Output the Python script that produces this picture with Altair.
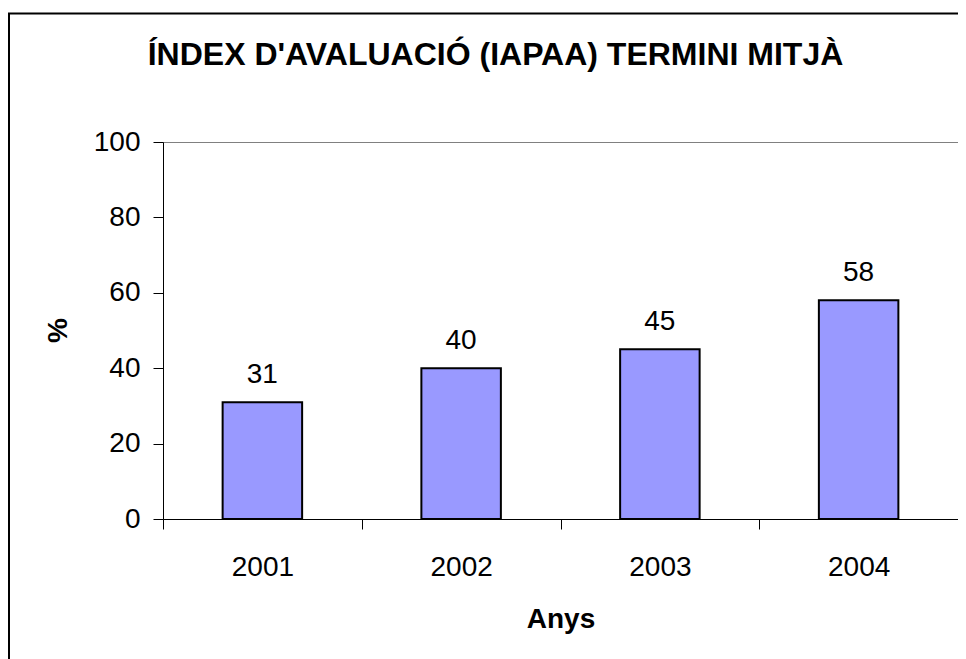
import altair as alt
import pandas as pd

# ---- data ----
years = ["2001", "2002", "2003", "2004"]
values = [31, 40, 45, 58]
y_ticks = [0, 20, 40, 60, 80, 100]
title_text = "ÍNDEX D'AVALUACIÓ (IAPAA) TERMINI MITJÀ"
x_title = "Anys"
y_title = "%"

df = pd.DataFrame({"Any": years, "Valor": values})

FONT = "Liberation Sans"

x_enc = alt.X(
    "Any:N",
    sort=years,
    scale=alt.Scale(paddingInner=0, paddingOuter=0),
    axis=alt.Axis(
        title=x_title,
        labelAngle=0,
        tickBand="extent",
        tickSize=10,
        labelPadding=24,
        titleY=108,
        titleBaseline="alphabetic",
    ),
)
y_enc = alt.Y(
    "Valor:Q",
    scale=alt.Scale(domain=[0, 100], nice=False),
    axis=alt.Axis(
        title=y_title,
        values=y_ticks,
        grid=False,
        tickSize=10,
        labelPadding=13,
        titleAngle=-90,
        titleX=-105,
        titleY=188,
        titleAlign="center",
        titleBaseline="middle",
    ),
)

frame = alt.Chart(alt.Data(values=[{"f": 1}])).mark_rect(
    fill="white", fillOpacity=0, stroke="#000000", strokeWidth=2
).encode(
    x=alt.value(-154), x2=alt.value(1000),
    y=alt.value(-128.5), y2=alt.value(700),
)

bars = alt.Chart(df).mark_bar(
    color="#9999ff", stroke="#000000", strokeWidth=2,
    width=alt.RelativeBandSize(0.4),
).encode(x=x_enc, y=y_enc)

labels = alt.Chart(df).mark_text(
    baseline="alphabetic", dy=-19, fontSize=28, font=FONT, color="#000000"
).encode(x=x_enc, y=y_enc, text="Valor:Q")

chart = alt.layer(frame, bars, labels).properties(
    width=795,
    height=377,
    background="white",
    padding={"left": 155, "top": 134, "right": 0, "bottom": 140},
    autosize=alt.AutoSizeParams(type="none"),
    title=alt.Title(
        title_text,
        font=FONT,
        fontSize=32,
        fontWeight="bold",
        color="#000000",
        anchor="middle",
        dx=-65,
        dy=84,
        baseline="alphabetic",
        offset=0,
    ),
).configure_view(
    stroke="#808080", strokeWidth=1
).configure_axis(
    labelFont=FONT,
    labelFontSize=28,
    labelColor="#000000",
    titleFont=FONT,
    titleFontSize=28,
    titleFontWeight="bold",
    titleColor="#000000",
    tickColor="#000000",
    domainColor="#000000",
    domainWidth=1,
    tickWidth=1,
)

chart.save("out.html", embed_options={"renderer": "svg", "actions": False})
